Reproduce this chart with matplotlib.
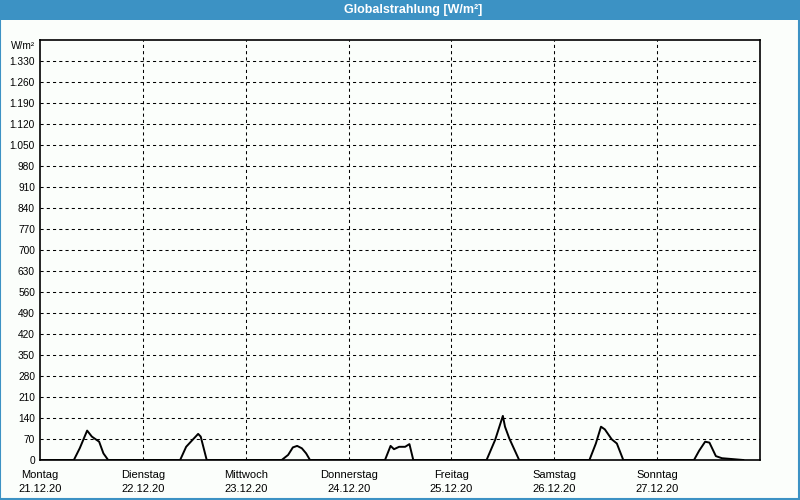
import matplotlib.pyplot as plt
from matplotlib.patches import Rectangle

# hours since Monday 21.12.20 00:00
time_h = [
    0.0, 7.9, 9.3, 11.0, 12.1, 13.8, 14.8, 15.9,
    32.7, 34.1, 35.2, 36.9, 37.5, 38.9,
    56.4, 57.9, 59.0, 60.0, 61.1, 62.1, 63.0,
    80.5, 81.8, 82.6, 83.8, 85.2, 86.2, 87.1,
    104.2, 106.2, 108.0, 108.5, 109.5, 111.8,
    128.2, 129.7, 130.9, 131.8, 133.4, 134.6, 136.1,
    152.6, 153.8, 155.2, 156.2, 157.7, 159.1, 164.1,
]
radiation = [
    0, 0, 40, 98, 78, 61, 22, 0,
    0, 44, 61, 87, 78, 0,
    0, 17, 42, 47, 39, 22, 0,
    0, 47, 36, 44, 44, 53, 0,
    0, 67, 147, 111, 72, 0,
    0, 55, 111, 102, 69, 55, 0,
    0, 31, 61, 58, 13, 6, 0,
]

day_names = ["Montag", "Dienstag", "Mittwoch", "Donnerstag", "Freitag", "Samstag", "Sonntag"]
day_dates = ["21.12.20", "22.12.20", "23.12.20", "24.12.20", "25.12.20", "26.12.20", "27.12.20"]
y_ticks = list(range(0, 1331, 70))

BLUE = "#3c92c4"
BG = "#fbfefb"
FONT = ["Liberation Sans", "DejaVu Sans"]


def fmt_de(v):
    return f"{v:,}".replace(",", ".")


fig = plt.figure(figsize=(8, 5), dpi=100, facecolor=BG)

# title bar and window border
fig.patches.append(Rectangle((0, 0.96), 1, 0.04, transform=fig.transFigure,
                             facecolor=BLUE, edgecolor="none", zorder=0))
fig.patches.append(Rectangle((0.0006, 0.002), 0.998, 0.996, transform=fig.transFigure,
                             facecolor="none", edgecolor=BLUE, linewidth=1.5, zorder=1))
fig.text(0.516, 0.979, "Globalstrahlung [W/m²]", color="white", fontsize=9,
         fontweight="bold", ha="center", va="center", family=FONT)

ax = fig.add_axes([0.05, 0.08, 0.90, 0.84], facecolor=BG)

days = [t / 24.0 for t in time_h]
ax.plot(days, radiation, color="black", linewidth=1.4, zorder=3)

ax.set_xlim(0, 7)
ax.set_ylim(0, 1400)

ax.set_yticks(y_ticks)
ax.set_yticklabels([fmt_de(v) for v in y_ticks], fontsize=7.3, family=FONT)
ax.tick_params(axis="y", length=0, pad=3.6)
ax.set_xticks([])

for v in y_ticks[1:]:
    ax.axhline(v, color="black", linewidth=0.75, linestyle=(0, (3, 3)), zorder=1)
for d in range(1, 7):
    ax.axvline(d, color="black", linewidth=0.75, linestyle=(0, (3, 3)), zorder=1)

for spine in ax.spines.values():
    spine.set_color("black")
    spine.set_linewidth(1.2)

xt = ax.get_xaxis_transform()
for i, (name, date) in enumerate(zip(day_names, day_dates)):
    ax.text(i, -0.036, name, transform=xt, ha="center", va="center", fontsize=8, family=FONT)
    ax.text(i, -0.07, date, transform=xt, ha="center", va="center", fontsize=8, family=FONT)

fig.text(0.029, 0.908, "W/m²", fontsize=7.3, ha="center", va="center", family=FONT)

fig.savefig("out.png", dpi=100, facecolor=BG)
